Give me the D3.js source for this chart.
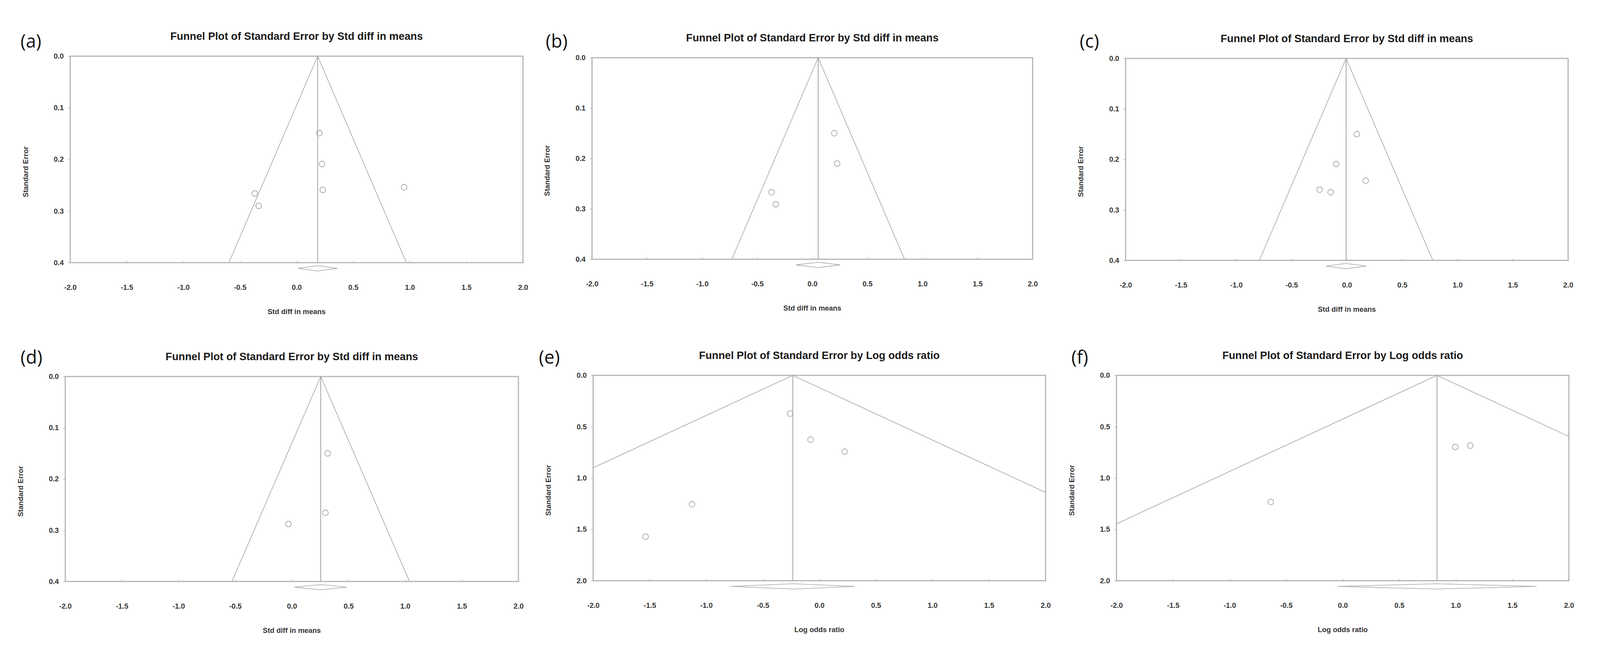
<!DOCTYPE html>
<html>
<head>
<meta charset="utf-8">
<script src="https://cdn.jsdelivr.net/npm/d3@7"></script>
<style>
  html, body { margin: 0; padding: 0; background: #ffffff; width: 100%; height: 100%; overflow: hidden; }
  #chart { width: 100vw; height: 100vh; }
  svg { display: block; }
</style>
</head>
<body>
<div id="chart"></div>
<script>
const W = 4216
const H = 1715

// ---- data ----
const panelLabels = ['(a)', '(b)', '(c)', '(d)', '(e)', '(f)']
const titles = [
  'Funnel Plot of Standard Error by Std diff in means',
  'Funnel Plot of Standard Error by Std diff in means',
  'Funnel Plot of Standard Error by Std diff in means',
  'Funnel Plot of Standard Error by Std diff in means',
  'Funnel Plot of Standard Error by Log odds ratio',
  'Funnel Plot of Standard Error by Log odds ratio'
]
const xTitles = ['Std diff in means', 'Std diff in means', 'Std diff in means',
  'Std diff in means', 'Log odds ratio', 'Log odds ratio']
const yTitle = 'Standard Error'
const xTicks = [-2.0, -1.5, -1.0, -0.5, 0.0, 0.5, 1.0, 1.5, 2.0]
const seTicksSmd = [0.0, 0.1, 0.2, 0.3, 0.4]
const seTicksLor = [0.0, 0.5, 1.0, 1.5, 2.0]
const seMax = [0.4, 0.4, 0.4, 0.4, 2.0, 2.0]

// pooled estimate and its confidence interval (diamond)
const pooled = [0.186, 0.053, -0.007, 0.255, -0.235, 0.834]
const ciLow = [0.011, -0.149, -0.190, 0.021, -0.783, -0.047]
const ciHigh = [0.361, 0.254, 0.176, 0.487, 0.312, 1.715]

// study effects and standard errors
const effA = [0.201, 0.224, 0.231, 0.950, -0.370, -0.335]
const seA = [0.149, 0.209, 0.259, 0.254, 0.266, 0.290]
const effB = [0.199, 0.225, -0.371, -0.331]
const seB = [0.150, 0.210, 0.267, 0.291]
const effC = [0.090, -0.097, 0.170, -0.246, -0.147]
const seC = [0.150, 0.209, 0.242, 0.260, 0.265]
const effD = [0.316, 0.296, -0.030]
const seD = [0.150, 0.266, 0.288]
const effE = [-0.258, -0.078, 0.223, -1.125, -1.537]
const seE = [0.372, 0.626, 0.743, 1.255, 1.571]
const effF = [0.996, 1.128, -0.636]
const seF = [0.697, 0.684, 1.233]

const effects = [effA, effB, effC, effD, effE, effF]
const errors = [seA, seB, seC, seD, seE, seF]

// ---- layout (pixel frames of the six plots) ----
const frames = [
  { x0: 185, y0: 148, x1: 1378, y1: 692, lx: 54, ly: 126 },
  { x0: 1560, y0: 152, x1: 2721, y1: 683, lx: 1438, ly: 126 },
  { x0: 2966, y0: 154, x1: 4132, y1: 686, lx: 2845, ly: 126 },
  { x0: 172, y0: 992, x1: 1366, y1: 1532, lx: 54, ly: 958 },
  { x0: 1563, y0: 989, x1: 2755, y1: 1530, lx: 1420, ly: 958 },
  { x0: 2942, y0: 989, x1: 4134, y1: 1530, lx: 2823, ly: 958 }
]

const fmt = d3.formatLocale({
  decimal: '.', thousands: ',', grouping: [3], currency: ['$', ''], minus: '-'
}).format('.1f')

const font = '"Liberation Sans", Arial, sans-serif'
const frameColor = '#b4b4b4'
const lineColor = '#a0a0a0'

// scale to whatever viewport the page gets, pinned to the top
const svg = d3.select('#chart')
  .append('svg')
  .attr('viewBox', `0 0 ${W} ${H}`)
  .attr('preserveAspectRatio', 'xMidYMin meet')
  .attr('width', '100%')
  .attr('height', '100%')
  .style('background-color', '#ffffff')

const defs = svg.append('defs')

frames.forEach((f, i) => {
  const x = d3.scaleLinear().domain([-2, 2]).range([f.x0, f.x1])
  const y = d3.scaleLinear().domain([0, seMax[i]]).range([f.y0, f.y1])
  const seTicks = seMax[i] > 1 ? seTicksLor : seTicksSmd
  const g = svg.append('g').attr('class', 'panel')

  // clip for funnel lines
  defs.append('clipPath')
    .attr('id', 'clip' + i)
    .append('rect')
    .attr('x', f.x0)
    .attr('y', f.y0)
    .attr('width', f.x1 - f.x0)
    .attr('height', f.y1 - f.y0)

  // panel letter
  g.append('text')
    .attr('x', f.lx)
    .attr('y', f.ly)
    .style('font-family', '"Open Sans", "Noto Sans", sans-serif')
    .style('font-size', '48px')
    .style('fill', '#111')
    .text(panelLabels[i])

  // title
  g.append('text')
    .attr('x', (f.x0 + f.x1) / 2)
    .attr('y', f.y0 - 43)
    .attr('text-anchor', 'middle')
    .style('font-family', font)
    .style('font-weight', 'bold')
    .style('font-size', '28px')
    .style('fill', '#1a1a1a')
    .text(titles[i])

  // axes
  const xAxis = g.append('g')
    .attr('transform', `translate(0,${f.y1})`)
    .call(d3.axisBottom(x).tickValues(xTicks).tickFormat(fmt).tickSize(-4).tickPadding(58))
  const yAxis = g.append('g')
    .attr('transform', `translate(${f.x0},0)`)
    .call(d3.axisLeft(y).tickValues(seTicks).tickFormat(fmt).tickSize(5).tickPadding(12))

  ;[xAxis, yAxis].forEach(a => {
    a.select('.domain').remove()
    a.selectAll('line').attr('stroke', frameColor).attr('stroke-width', 2)
    a.selectAll('text')
      .style('font-family', font)
      .style('font-weight', 'bold')
      .style('font-size', '19px')
      .style('fill', '#333')
  })

  // frame
  g.append('rect')
    .attr('x', f.x0)
    .attr('y', f.y0)
    .attr('width', f.x1 - f.x0)
    .attr('height', f.y1 - f.y0)
    .attr('fill', 'none')
    .attr('stroke', frameColor)
    .attr('stroke-width', 3)

  // axis titles
  g.append('text')
    .attr('x', (f.x0 + f.x1) / 2)
    .attr('y', f.y1 + 129)
    .attr('dy', '0.35em')
    .attr('text-anchor', 'middle')
    .style('font-family', font)
    .style('font-weight', 'bold')
    .style('font-size', '19px')
    .style('fill', '#333')
    .text(xTitles[i])

  g.append('text')
    .attr('transform', `translate(${f.x0 - 118},${f.y0 + 0.56 * (f.y1 - f.y0)}) rotate(-90)`)
    .attr('dy', '0.35em')
    .attr('text-anchor', 'middle')
    .style('font-family', font)
    .style('font-weight', 'bold')
    .style('font-size', '19px')
    .style('fill', '#333')
    .text(yTitle)

  // funnel (95% pseudo confidence limits)
  const m = pooled[i]
  const s = seMax[i]
  const funnel = [[m - 1.96 * s, s], [m, 0], [m + 1.96 * s, s]]
  g.append('path')
    .attr('clip-path', `url(#clip${i})`)
    .attr('d', d3.line().x(d => x(d[0])).y(d => y(d[1]))(funnel))
    .attr('fill', 'none')
    .attr('stroke', lineColor)
    .attr('stroke-width', 1.6)

  // pooled estimate line
  g.append('line')
    .attr('x1', x(m))
    .attr('x2', x(m))
    .attr('y1', y(0))
    .attr('y2', y(s))
    .attr('stroke', lineColor)
    .attr('stroke-width', 2)

  // studies
  const pts = effects[i].map((e, k) => ({ e: e, se: errors[i][k] }))
  g.selectAll('circle.study').data(pts).enter()
    .append('circle')
    .classed('study', true)
    .attr('cx', d => x(d.e))
    .attr('cy', d => y(d.se))
    .attr('r', 7.5)
    .attr('fill', 'none')
    .attr('stroke', '#9a9a9a')
    .attr('stroke-width', 1.6)

  // summary diamond below the axis
  const dy = f.y1 + 15
  const diamond = [[ciLow[i], 0], [m, -7], [ciHigh[i], 0], [m, 7]]
  g.append('path')
    .attr('d', d3.line().x(d => x(d[0])).y(d => dy + d[1]).curve(d3.curveLinearClosed)(diamond))
    .attr('fill', '#ffffff')
    .attr('stroke', '#a8a8a8')
    .attr('stroke-width', 1.6)
})
</script>
</body>
</html>
